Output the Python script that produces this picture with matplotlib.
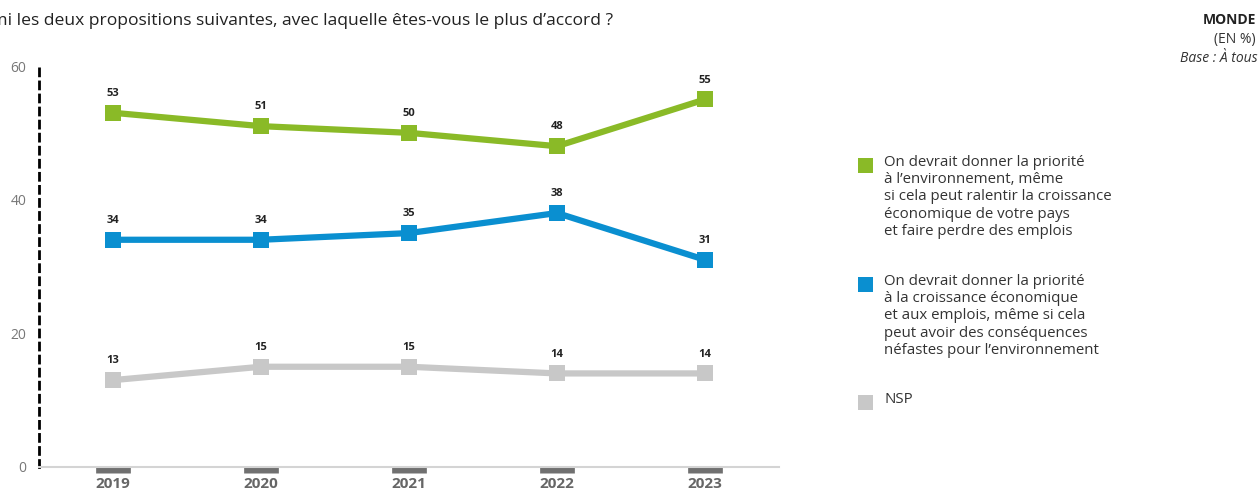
import matplotlib.pyplot as plt
from matplotlib.patches import Rectangle

plt.rcParams['font.family'] = ['Open Sans', 'DejaVu Sans']

annees = [2019, 2020, 2021, 2022, 2023]
environnement = [53, 51, 50, 48, 55]
croissance = [34, 34, 35, 38, 31]
nsp = [13, 15, 15, 14, 14]

vert = '#8aba27'
bleu = '#0a8fd0'
gris = '#c8c8c8'

legende = [
    (vert, "On devrait donner la priorité\nà l'environnement, même\nsi cela peut ralentir la croissance\néconomique de votre pays\net faire perdre des emplois"),
    (bleu, "On devrait donner la priorité\nà la croissance économique\net aux emplois, même si cela\npeut avoir des conséquences\nnéfastes pour l'environnement"),
    (gris, "NSP"),
]

W, H = 1258, 491
fig = plt.figure(figsize=(W / 100, H / 100), dpi=100)
ax = fig.add_axes([39 / W, (H - 467) / H, 740 / W, 401 / H])

for serie, c in [(nsp, gris), (croissance, bleu), (environnement, vert)]:
    ax.plot(annees, serie, color=c, lw=4.5, marker='s', ms=12, mew=0,
            solid_joinstyle='round', zorder=3)
    for x, v in zip(annees, serie):
        ax.annotate(str(v), (x, v), xytext=(0, 10), textcoords='offset points',
                    ha='center', va='bottom', fontsize=8, fontweight='bold',
                    color='#222222')

ax.set_xlim(2018.5, 2023.5)
ax.set_ylim(0, 60)
ax.set_yticks([0, 20, 40, 60])
ax.set_xticks(annees)
ax.tick_params(axis='y', length=0, pad=9, labelsize=10, labelcolor='#777777')
ax.tick_params(axis='x', length=4.5, width=25, color='#707070', pad=3,
               labelsize=11, labelcolor='#666666')
for lab in ax.get_xticklabels():
    lab.set_fontweight('bold')

for s in ['top', 'right']:
    ax.spines[s].set_visible(False)
ax.spines['bottom'].set_color('#d4d4d4')
ax.spines['bottom'].set_linewidth(1.5)
ax.spines['left'].set_color('black')
ax.spines['left'].set_linewidth(2)
ax.spines['left'].set_linestyle((0, (2.5, 2.2)))

# titre (coupé à gauche) et mentions en haut à droite
fig.text(613 / W, 1 - 21 / H, "Parmi les deux propositions suivantes, avec laquelle êtes-vous le plus d\u2019accord ?",
         ha='right', va='center', fontsize=12.6, color='#222222')
fig.text(1256 / W, 1 - 20 / H, "MONDE", ha='right', va='center', fontsize=10,
         fontweight='bold', color='#222222')
fig.text(1256 / W, 1 - 40 / H, "(EN %)", ha='right', va='center', fontsize=10,
         color='#333333')
fig.text(1258 / W, 1 - 59 / H, "Base : À tous", ha='right', va='center', fontsize=10,
         style='italic', color='#333333')

# légende
y0 = [158, 277, 395]
for (c, txt), y in zip(legende, y0):
    fig.add_artist(Rectangle((858 / W, 1 - (y + 15) / H), 15 / W, 15 / H,
                             transform=fig.transFigure, color=c, lw=0))
    fig.text(884 / W, 1 - (y - 3) / H, txt.replace("'", "\u2019"), ha='left', va='top',
             fontsize=10.8, color='#333333', linespacing=1.2)

fig.savefig('out.png', dpi=100)
